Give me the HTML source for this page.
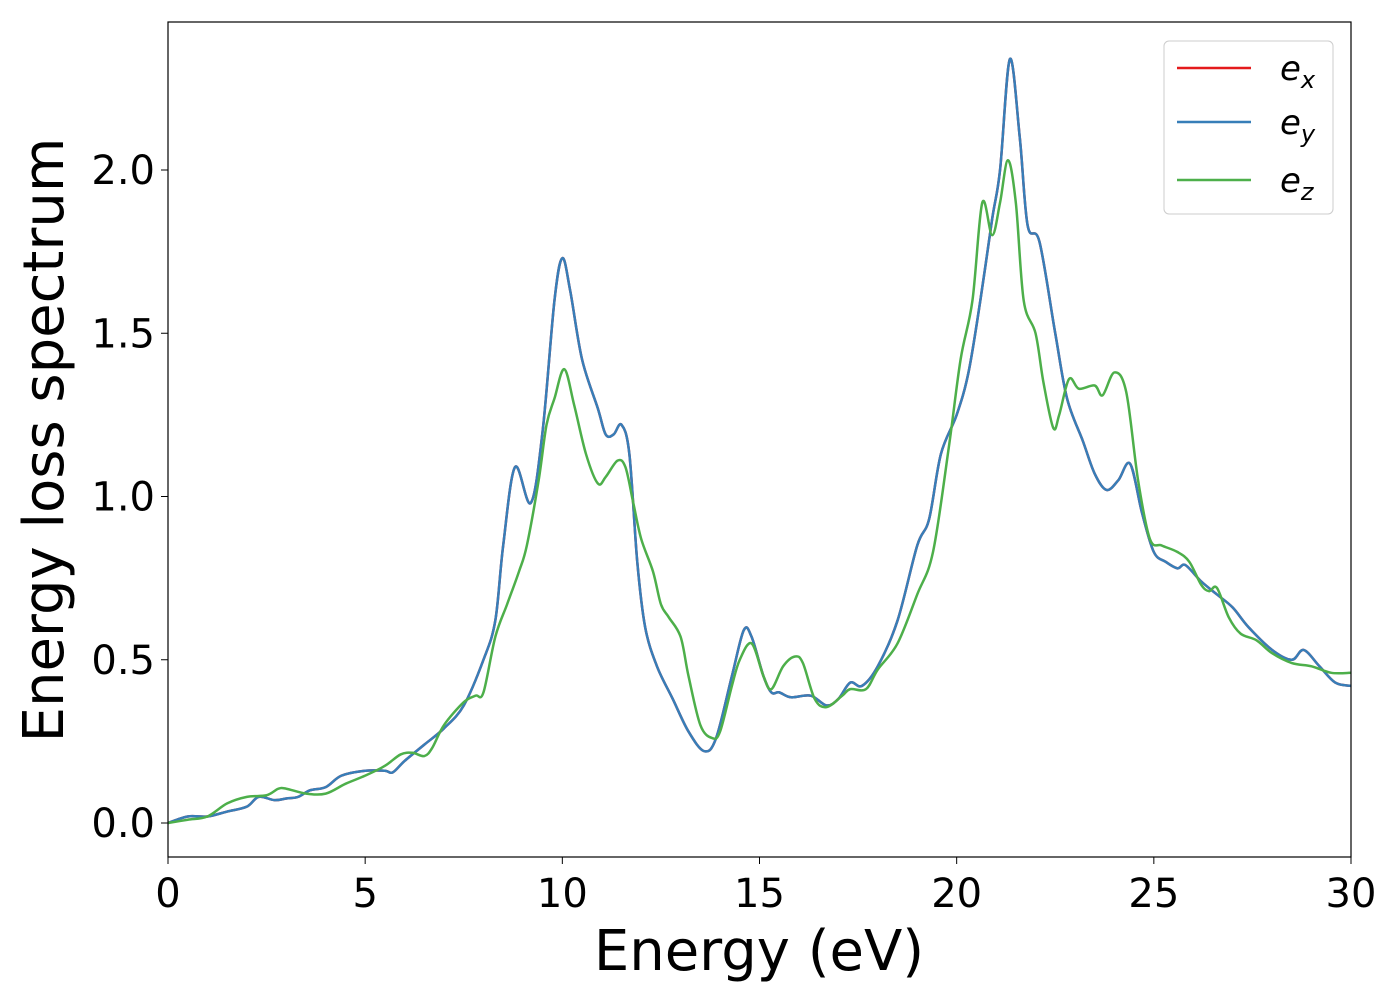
<!DOCTYPE html>
<html><head><meta charset="utf-8"><style>
body{margin:0;background:#fff}
svg text{font-family:"DejaVu Sans","Liberation Sans",sans-serif;fill:#000}
</style></head><body>
<svg id="chart" width="1400" height="1000" viewBox="0 0 1400 1000" xmlns="http://www.w3.org/2000/svg">
<g id="axes"></g>
<g id="series"></g>
<rect x="168" y="22" width="1183" height="835" fill="none" stroke="#000" stroke-width="1.2"/>
<g>
<rect x="1164" y="41" width="169" height="173" rx="5" fill="#fff" fill-opacity="0.8" stroke="#ccc"/>
<g><line x1="1177" y1="68" x2="1251" y2="68" stroke="#e41a1c" stroke-width="2.5"/><text x="1280" y="80" font-size="34" font-style="italic">e<tspan font-size="24" dy="8">x</tspan></text></g>
<g><line x1="1177" y1="122" x2="1251" y2="122" stroke="#377eb8" stroke-width="2.5"/><text x="1280" y="134" font-size="34" font-style="italic">e<tspan font-size="24" dy="8">y</tspan></text></g>
<g><line x1="1177" y1="180" x2="1251" y2="180" stroke="#4daf4a" stroke-width="2.5"/><text x="1280" y="192" font-size="34" font-style="italic">e<tspan font-size="24" dy="8">z</tspan></text></g>
</g>
<text x="759" y="970" font-size="56" text-anchor="middle">Energy (eV)</text>
<text transform="translate(63,440) rotate(-90)" font-size="56" text-anchor="middle">Energy loss spectrum</text>
</svg>
<script>
const xyE=[0,0.5,1,1.5,2,2.3,2.7,3,3.3,3.6,4,4.4,5,5.5,5.7,6,6.5,7,7.5,8,8.3,8.5,8.8,9.2,9.5,9.8,10,10.2,10.5,10.9,11.1,11.3,11.5,11.7,11.9,12.1,12.4,12.8,13.2,13.6,13.9,14.3,14.6,14.8,15.1,15.3,15.5,15.8,16.3,16.7,17,17.3,17.6,18,18.5,19,19.3,19.6,20,20.3,20.6,20.9,21.1,21.35,21.6,21.8,22.1,22.5,22.8,23.2,23.5,23.8,24.1,24.4,24.7,25,25.3,25.6,25.8,26.2,26.6,27,27.4,28,28.5,28.8,29.2,29.6,30];
const xyV=[0,0.02,0.02,0.035,0.05,0.08,0.07,0.075,0.08,0.10,0.11,0.145,0.16,0.16,0.155,0.19,0.24,0.29,0.36,0.5,0.62,0.85,1.09,0.98,1.2,1.6,1.73,1.63,1.42,1.27,1.19,1.19,1.22,1.13,0.8,0.6,0.48,0.38,0.28,0.22,0.26,0.45,0.59,0.57,0.45,0.40,0.40,0.385,0.39,0.36,0.38,0.43,0.42,0.48,0.62,0.85,0.93,1.13,1.25,1.38,1.6,1.85,2.0,2.34,2.1,1.83,1.78,1.5,1.3,1.17,1.07,1.02,1.05,1.1,0.95,0.83,0.8,0.78,0.79,0.74,0.7,0.66,0.6,0.53,0.5,0.53,0.48,0.43,0.42];
const zE=[0,0.5,1,1.5,2,2.5,2.8,3,3.5,4,4.5,5,5.5,5.9,6.2,6.5,6.7,7,7.5,7.8,8,8.3,8.6,8.9,9.1,9.4,9.6,9.8,10.05,10.3,10.6,10.9,11.1,11.4,11.6,11.8,12,12.3,12.5,12.7,13,13.2,13.5,13.8,14,14.3,14.5,14.8,15.1,15.3,15.6,15.9,16.1,16.4,16.7,17.1,17.3,17.7,18,18.5,19,19.4,19.8,20.1,20.4,20.65,20.9,21.1,21.3,21.5,21.7,22,22.2,22.45,22.6,22.85,23.1,23.5,23.7,24,24.3,24.6,24.9,25.2,25.6,25.9,26.2,26.4,26.6,26.9,27.2,27.6,28,28.5,29,29.5,30];
const zV=[0,0.01,0.02,0.06,0.08,0.085,0.105,0.105,0.09,0.09,0.12,0.145,0.175,0.21,0.215,0.205,0.23,0.3,0.37,0.39,0.4,0.57,0.67,0.77,0.85,1.05,1.22,1.3,1.39,1.28,1.13,1.04,1.06,1.11,1.09,0.98,0.87,0.77,0.67,0.63,0.57,0.45,0.30,0.26,0.28,0.42,0.5,0.55,0.45,0.41,0.48,0.51,0.49,0.38,0.355,0.39,0.41,0.41,0.47,0.55,0.7,0.83,1.15,1.42,1.6,1.9,1.8,1.9,2.03,1.9,1.6,1.5,1.35,1.21,1.25,1.36,1.33,1.34,1.31,1.38,1.32,1.05,0.87,0.85,0.83,0.8,0.73,0.71,0.72,0.63,0.58,0.56,0.52,0.49,0.48,0.46,0.46];
const xTicks=[0,5,10,15,20,25,30];
const yTicks=[0.0,0.5,1.0,1.5,2.0];
const X0=168,X1=1351,XMIN=0,XMAX=30;
const Y0=823,YPER=326.5;
function sx(v){return X0+(v-XMIN)/(XMAX-XMIN)*(X1-X0);}
function sy(v){return Y0-v*YPER;}
const NS='http://www.w3.org/2000/svg';
const axes=document.getElementById('axes');
xTicks.forEach(t=>{
 const l=document.createElementNS(NS,'line');
 
 
 l.setAttribute('x1',sx(t));l.setAttribute('x2',sx(t));l.setAttribute('y1',857);l.setAttribute('y2',864);l.setAttribute('stroke','#000');
 axes.appendChild(l);
 const tx=document.createElementNS(NS,'text');
 
 
 tx.setAttribute('x',sx(t));tx.setAttribute('y',907);tx.setAttribute('font-size','40');tx.setAttribute('text-anchor','middle');
 tx.textContent=t;axes.appendChild(tx);
});
yTicks.forEach(t=>{
 const l=document.createElementNS(NS,'line');
 
 
 l.setAttribute('x1',161);l.setAttribute('x2',168);l.setAttribute('y1',sy(t));l.setAttribute('y2',sy(t));l.setAttribute('stroke','#000');
 axes.appendChild(l);
 const tx=document.createElementNS(NS,'text');
 
 
 tx.setAttribute('x',155);tx.setAttribute('y',sy(t)+14);tx.setAttribute('font-size','40');tx.setAttribute('text-anchor','end');
 tx.textContent=t.toFixed(1);axes.appendChild(tx);
});
function pathFor(E,V){
 const p=E.map((e,i)=>[sx(e),sy(V[i])]);
 let d='M'+p[0][0]+','+p[0][1];
 for(let i=0;i<p.length-1;i++){
  const a=p[Math.max(0,i-1)],b=p[i],c=p[i+1],e=p[Math.min(p.length-1,i+2)];
  const c1=[b[0]+(c[0]-a[0])/6,b[1]+(c[1]-a[1])/6],c2=[c[0]-(e[0]-b[0])/6,c[1]-(e[1]-b[1])/6];
  d+=' C'+c1[0]+','+c1[1]+' '+c2[0]+','+c2[1]+' '+c[0]+','+c[1];
 }
 return d;
}
const ser=document.getElementById('series');
[['series-ex',xyE,xyV,'#e41a1c'],['series-ey',xyE,xyV,'#377eb8'],['series-ez',zE,zV,'#4daf4a']].forEach(s=>{
 const p=document.createElementNS(NS,'path');
 
 
 p.setAttribute('d',pathFor(s[1],s[2]));p.setAttribute('fill','none');p.setAttribute('stroke',s[3]);p.setAttribute('stroke-width','2.5');
 ser.appendChild(p);
});
</script>
</body></html>
